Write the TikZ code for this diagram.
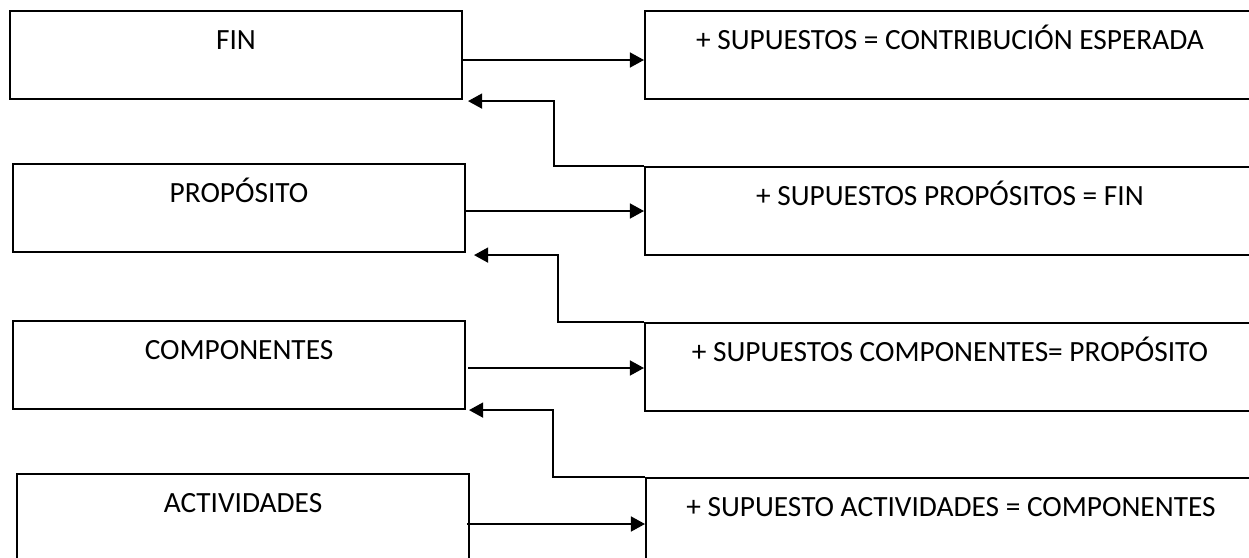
\documentclass[tikz,border=0pt]{standalone}
\usepackage{fontspec}
\setmainfont{Carlito}
\usetikzlibrary{shapes,arrows.meta,calc}

\begin{document}
\begin{tikzpicture}[x=0.02cm,y=-0.02cm]
		\tikzstyle {box} = [draw, line width=1.2pt, inner sep=0pt, anchor=north west, text height=0.76cm, text depth=1cm, font=\fontsize{16.7}{20}\selectfont]
		\tikzstyle {left box} = [box, minimum width=9.04cm]
		\tikzstyle {right box} = [box, minimum width=12.2cm]
		\tikzstyle {link} = [line width=1pt, -{Triangle[length=8pt,width=8.5pt]}]

		\useasboundingbox (0,0) rectangle (1249,558);
		\clip (0,0) rectangle (1249,558);

		\node[left box] (fin) at (9,10) {FIN};
		\node[left box] (prop) at (12,163) {PROPÓSITO};
		\node[left box] (comp) at (12,320) {COMPONENTES};
		\node[left box, text depth=2cm] (act) at (16,473) {ACTIVIDADES};

		\node[right box] (sfin) at (644,10) {+ SUPUESTOS = CONTRIBUCIÓN ESPERADA};
		\node[right box] (sprop) at (644,166) {+ SUPUESTOS PROPÓSITOS = FIN};
		\node[right box] (scomp) at (644,322) {+ SUPUESTOS COMPONENTES= PROPÓSITO};
		\node[right box, text depth=2cm] (sact) at (645,477) {+ SUPUESTO ACTIVIDADES = COMPONENTES};

		\draw[link] ($(fin.north east)+(0,50)$) -- ($(sfin.north west)+(0,50)$);
		\draw[link] ($(prop.north east)+(0,48)$) -- ($(sprop.north west)+(0,45)$);
		\draw[link] ($(comp.north east)+(2,48)$) -- ($(scomp.north west)+(0,46)$);
		\draw[link] ($(act.north east)+(-3,51)$) -- ($(sact.north west)+(0,47)$);

		\draw[link] (sprop.north west) -- ++(-90,0) |- ($(fin.south east)+(5,1)$);
		\draw[link] (scomp.north west) -- ++(-86,0) |- ($(prop.south east)+(8,2)$);
		\draw[link] (sact.north west) -- ++(-92,0) |- ($(comp.south east)+(3,0)$);
\end{tikzpicture}
\end{document}
